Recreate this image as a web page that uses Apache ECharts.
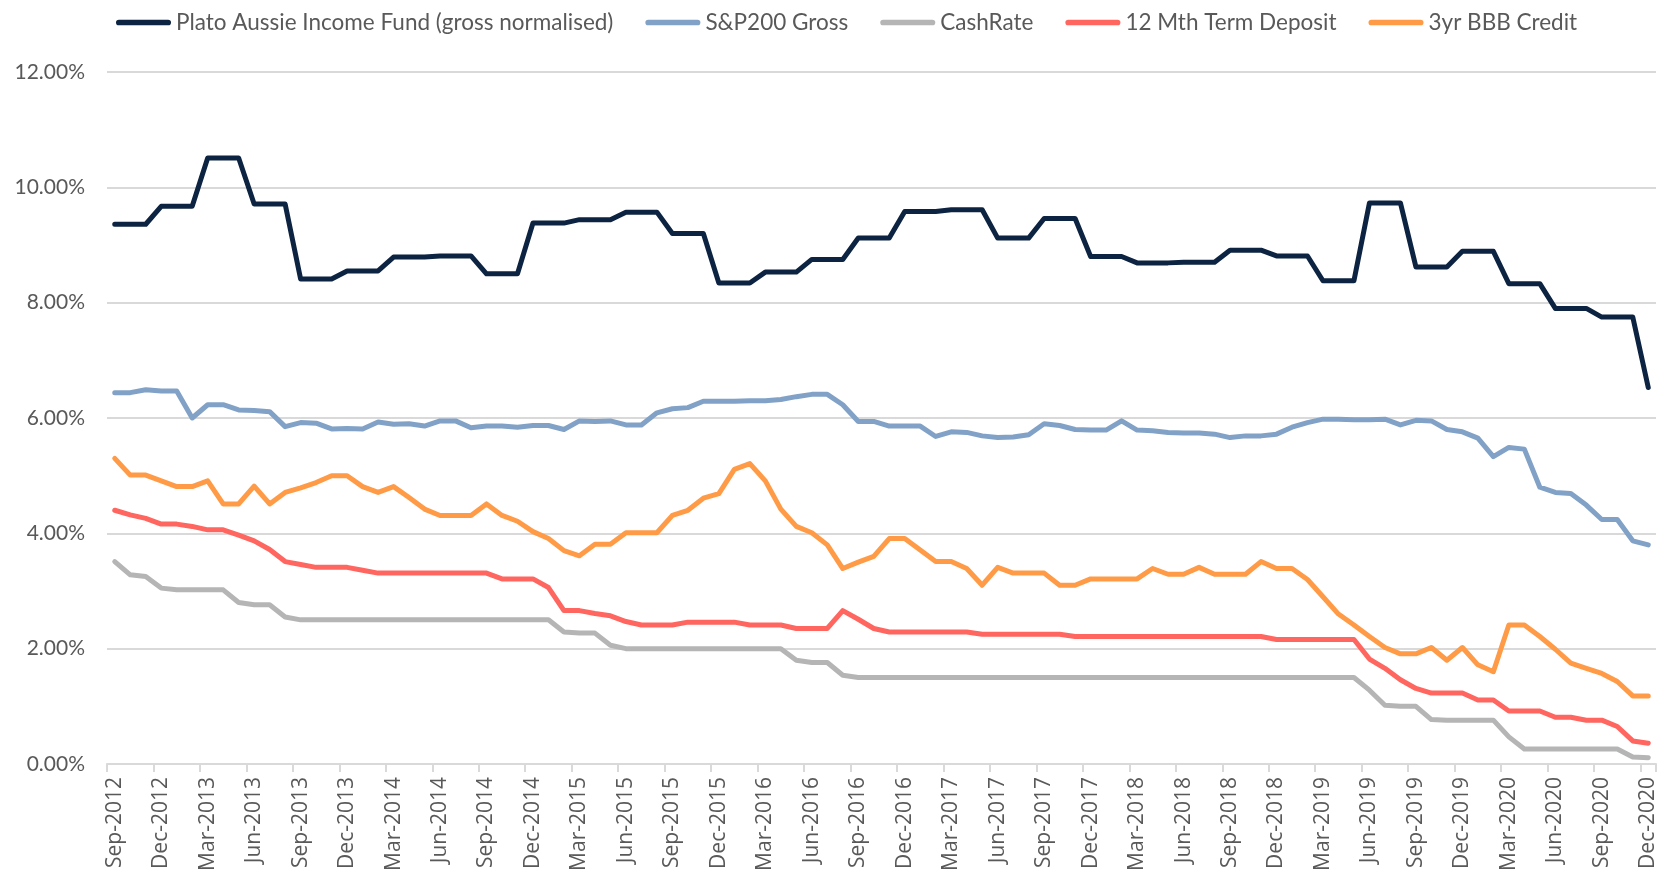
<!DOCTYPE html>
<html>
<head>
<meta charset="utf-8">
<script src="https://cdn.jsdelivr.net/npm/echarts@6/dist/echarts.min.js"></script>
<style>
  html, body { margin: 0; padding: 0; background: #fff; }
  #main { width: 1661px; height: 874px; }
</style>
</head>
<body>
<div id="main"></div>
<script>
// month categories, Sep-2012 .. Dec-2020
var months = [
  'Sep-2012','Oct-2012','Nov-2012','Dec-2012',
  'Jan-2013','Feb-2013','Mar-2013','Apr-2013','May-2013','Jun-2013','Jul-2013','Aug-2013','Sep-2013','Oct-2013','Nov-2013','Dec-2013',
  'Jan-2014','Feb-2014','Mar-2014','Apr-2014','May-2014','Jun-2014','Jul-2014','Aug-2014','Sep-2014','Oct-2014','Nov-2014','Dec-2014',
  'Jan-2015','Feb-2015','Mar-2015','Apr-2015','May-2015','Jun-2015','Jul-2015','Aug-2015','Sep-2015','Oct-2015','Nov-2015','Dec-2015',
  'Jan-2016','Feb-2016','Mar-2016','Apr-2016','May-2016','Jun-2016','Jul-2016','Aug-2016','Sep-2016','Oct-2016','Nov-2016','Dec-2016',
  'Jan-2017','Feb-2017','Mar-2017','Apr-2017','May-2017','Jun-2017','Jul-2017','Aug-2017','Sep-2017','Oct-2017','Nov-2017','Dec-2017',
  'Jan-2018','Feb-2018','Mar-2018','Apr-2018','May-2018','Jun-2018','Jul-2018','Aug-2018','Sep-2018','Oct-2018','Nov-2018','Dec-2018',
  'Jan-2019','Feb-2019','Mar-2019','Apr-2019','May-2019','Jun-2019','Jul-2019','Aug-2019','Sep-2019','Oct-2019','Nov-2019','Dec-2019',
  'Jan-2020','Feb-2020','Mar-2020','Apr-2020','May-2020','Jun-2020','Jul-2020','Aug-2020','Sep-2020','Oct-2020','Nov-2020','Dec-2020'
];

var seriesNames = ['Plato Aussie Income Fund (gross normalised)', 'S&P200 Gross', 'CashRate', '12 Mth Term Deposit', '3yr BBB Credit'];

var plato = [
  9.36,9.36,9.36, 9.67,9.67,9.67, 10.51,10.51,10.51, 9.71,9.71,9.71,
  8.41,8.41,8.41, 8.55,8.55,8.55, 8.79,8.79,8.79, 8.81,8.81,8.81,
  8.50,8.50,8.50, 9.38,9.38,9.38, 9.44,9.44,9.44, 9.57,9.57,9.57,
  9.20,9.20,9.20, 8.34,8.34,8.34, 8.53,8.53,8.53, 8.75,8.75,8.75,
  9.12,9.12,9.12, 9.58,9.58,9.58, 9.61,9.61,9.61, 9.12,9.12,9.12,
  9.46,9.46,9.46, 8.80,8.80,8.80, 8.69,8.69,8.69, 8.70,8.70,8.70,
  8.91,8.91,8.91, 8.81,8.81,8.81, 8.38,8.38,8.38, 9.73,9.73,9.73,
  8.62,8.62,8.62, 8.89,8.89,8.89, 8.33,8.33,8.33, 7.90,7.90,7.90,
  7.75,7.75,7.75, 6.53
];

var sp200 = [
  6.44,6.44,6.49,6.47,6.47,6.00,6.23,6.23,6.14,6.13,
  6.11,5.85,5.92,5.91,5.81,5.82,5.81,5.93,5.89,5.90,
  5.86,5.95,5.95,5.83,5.86,5.86,5.84,5.87,5.87,5.80,
  5.95,5.94,5.95,5.88,5.88,6.09,6.16,6.18,6.29,6.29,
  6.29,6.30,6.30,6.32,6.37,6.41,6.41,6.23,5.94,5.94,
  5.86,5.86,5.86,5.68,5.76,5.75,5.69,5.66,5.67,5.71,
  5.90,5.87,5.80,5.79,5.79,5.95,5.79,5.78,5.75,5.74,
  5.74,5.72,5.66,5.69,5.69,5.72,5.84,5.92,5.98,5.98,
  5.97,5.97,5.98,5.88,5.96,5.95,5.80,5.76,5.65,5.33,
  5.49,5.46,4.80,4.71,4.69,4.49,4.24,4.24,3.87,3.80
];

var cashRate = [
  3.51,3.28,3.25,3.05,3.02,3.02,3.02,3.02,2.80,2.76,
  2.76,2.55,2.50,2.50,2.50,2.50,2.50,2.50,2.50,2.50,
  2.50,2.50,2.50,2.50,2.50,2.50,2.50,2.50,2.50,2.29,
  2.27,2.27,2.06,2.00,2.00,2.00,2.00,2.00,2.00,2.00,
  2.00,2.00,2.00,2.00,1.80,1.76,1.76,1.54,1.50,1.50,
  1.50,1.50,1.50,1.50,1.50,1.50,1.50,1.50,1.50,1.50,
  1.50,1.50,1.50,1.50,1.50,1.50,1.50,1.50,1.50,1.50,
  1.50,1.50,1.50,1.50,1.50,1.50,1.50,1.50,1.50,1.50,
  1.50,1.28,1.02,1.00,1.00,0.77,0.76,0.76,0.76,0.76,
  0.47,0.26,0.26,0.26,0.26,0.26,0.26,0.26,0.12,0.11
];

var termDeposit = [
  4.40,4.32,4.26,4.16,4.16,4.12,4.06,4.06,3.97,3.87,
  3.72,3.51,3.46,3.41,3.41,3.41,3.36,3.31,3.31,3.31,
  3.31,3.31,3.31,3.31,3.31,3.21,3.21,3.21,3.06,2.66,
  2.66,2.61,2.57,2.47,2.41,2.41,2.41,2.46,2.46,2.46,
  2.46,2.41,2.41,2.41,2.35,2.35,2.35,2.66,2.51,2.35,
  2.29,2.29,2.29,2.29,2.29,2.29,2.25,2.25,2.25,2.25,
  2.25,2.25,2.21,2.21,2.21,2.21,2.21,2.21,2.21,2.21,
  2.21,2.21,2.21,2.21,2.21,2.16,2.16,2.16,2.16,2.16,
  2.16,1.82,1.66,1.46,1.31,1.23,1.23,1.23,1.11,1.11,
  0.92,0.92,0.92,0.81,0.81,0.76,0.76,0.65,0.40,0.36
];

var bbbCredit = [
  5.30,5.01,5.01,4.91,4.81,4.81,4.91,4.51,4.51,4.82,
  4.51,4.71,4.79,4.88,5.00,5.00,4.81,4.71,4.81,4.62,
  4.42,4.31,4.31,4.31,4.51,4.31,4.21,4.03,3.91,3.70,
  3.61,3.81,3.81,4.01,4.01,4.01,4.31,4.40,4.61,4.69,
  5.11,5.21,4.91,4.42,4.12,4.01,3.80,3.39,3.50,3.60,
  3.91,3.91,3.71,3.51,3.51,3.39,3.10,3.41,3.31,3.31,
  3.31,3.10,3.10,3.21,3.21,3.21,3.21,3.39,3.29,3.29,
  3.41,3.29,3.29,3.29,3.51,3.39,3.39,3.20,2.90,2.60,
  2.41,2.21,2.02,1.91,1.91,2.02,1.80,2.02,1.72,1.60,
  2.41,2.41,2.21,1.99,1.75,1.66,1.57,1.43,1.18,1.18
];

var colors = ['#0c2341', '#81a2c6', '#b5b5b5', '#ff665f', '#ff9b46'];
var allData = [plato, sp200, cashRate, termDeposit, bbbCredit];

var myChart = echarts.init(document.getElementById('main'));

var series = seriesNames.map(function (name, k) {
  return {
    name: name,
    type: 'line',
    data: allData[k],
    symbol: 'none',
    lineStyle: { width: 5, color: colors[k], cap: 'round', join: 'round' },
    itemStyle: { color: colors[k] }
  };
});

var option = {
  animation: false,
  color: colors,
  legend: {
    top: 6,
    left: 111,
    itemWidth: 55,
    itemHeight: 7,
    itemGap: 32,
    icon: 'path://M3,0H55A3,3,0,0,1,55,6H3A3,3,0,0,1,3,0Z',
    textStyle: { fontFamily: 'Lato', fontSize: 22.5, color: '#595959' },
    data: seriesNames
  },
  grid: { left: 107, right: 5, top: 72, bottom: 110 },
  xAxis: {
    type: 'category',
    data: months,
    boundaryGap: true,
    axisLine: { lineStyle: { color: '#d9d9d9', width: 2 } },
    axisTick: { show: true, interval: 2, length: 8, lineStyle: { color: '#d9d9d9', width: 2 } },
    axisLabel: {
      interval: 2,
      rotate: 90,
      margin: 13,
      fontFamily: 'Open Sans',
      fontSize: 21,
      color: '#595959'
    }
  },
  yAxis: {
    type: 'value',
    min: 0,
    max: 12,
    interval: 2,
    axisLine: { show: false },
    axisTick: { show: false },
    axisLabel: {
      margin: 22,
      fontFamily: 'Lato',
      fontSize: 21,
      color: '#595959',
      formatter: function (v) { return v.toFixed(2) + '%'; }
    },
    splitLine: { lineStyle: { color: '#d9d9d9', width: 2 } }
  },
  series: series
};

myChart.setOption(option);
</script>
</body>
</html>
